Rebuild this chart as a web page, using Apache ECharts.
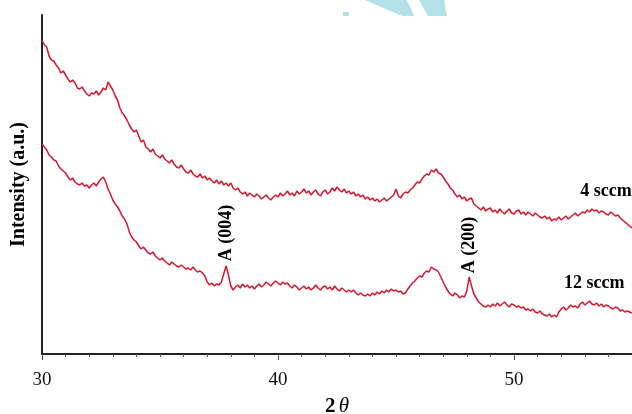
<!DOCTYPE html>
<html>
<head>
<meta charset="utf-8">
<script src="https://cdn.jsdelivr.net/npm/echarts@6/dist/echarts.min.js"></script>
<style>
  html, body { margin: 0; padding: 0; background: #fff; }
  #chart { width: 632px; height: 414px; }
</style>
</head>
<body>
<div id="chart"></div>
<script>
// 2θ grid: 30 .. 55, step 0.1
var thetaStart = 30;
var thetaStep = 0.1;

// 4 sccm (upper curve), arbitrary intensity units; one row per degree
var sccm4 = [
    314,309,307,298,294,293,289,286,281,283,
    279,275,272,274,271,266,265,267,263,260,
    258,261,260,263,259,262,266,264,272,268,
    264,258,254,246,241,238,234,229,225,222,
    224,218,212,214,207,205,202,205,200,198,
    196,199,195,193,191,194,190,187,186,189,
    185,182,181,184,180,178,177,180,176,178,
    174,176,173,171,174,170,173,169,171,168,
    171,166,164,166,162,160,162,158,161,159,
    157,160,158,155,157,159,156,154,157,159,
    157,161,158,160,163,159,161,158,163,160,
    162,165,161,163,159,162,164,160,158,162,
    164,160,162,166,163,167,164,162,165,161,
    163,160,162,158,160,157,159,155,157,154,
    156,153,155,152,154,156,153,155,157,159,
    165,158,156,160,162,161,164,166,169,172,
    171,175,178,180,179,184,182,185,181,180,
    177,173,170,166,164,160,157,159,155,157,
    153,155,156,150,148,146,144,147,143,145,
    146,142,144,141,145,142,140,143,145,141,
    140,143,144,140,142,139,142,140,138,141,
    139,137,136,138,135,137,133,135,134,137,
    134,136,138,135,137,139,141,138,140,142,
    141,144,142,145,143,144,141,143,142,140,
    139,142,140,138,139,136,134,132,130,128,
    126
];

// 12 sccm (lower curve)
var sccm12 = [
    210,207,204,199,197,194,193,188,185,183,
    181,177,174,176,172,170,169,171,168,169,
    166,169,171,168,172,175,177,172,165,160,
    154,150,147,143,138,135,130,122,117,114,
    112,108,105,107,104,101,100,102,98,96,
    94,96,93,91,89,92,90,88,87,89,
    87,85,86,84,87,84,82,83,81,78,
    72,69,71,68,70,69,72,80,88,79,
    68,64,67,69,66,70,67,69,66,68,
    65,68,70,67,69,72,70,68,71,73,
    71,69,72,70,71,68,66,69,67,64,
    66,68,65,67,64,66,69,66,64,67,
    68,65,67,64,68,65,63,66,64,62,
    64,62,64,61,59,61,59,58,60,58,
    61,59,62,60,63,61,64,62,65,63,
    64,62,63,60,61,65,68,71,73,76,
    78,77,81,83,82,87,85,84,82,77,
    72,67,63,60,58,61,59,56,58,57,
    63,77,68,60,56,52,50,48,47,49,
    47,50,48,51,48,50,52,49,47,50,
    49,47,48,46,47,44,45,43,45,42,
    41,43,40,39,38,40,37,39,37,42,
    45,47,44,46,49,47,48,46,50,52,
    49,51,53,50,49,51,48,50,47,49,
    48,46,45,47,46,43,44,42,43,42,
    41
];

// text annotations: [label, 2θ, intensity, rotated]
var notes = [
    ['A (004)', 37.82, 121, true],
    ['A (200)', 48.1, 109, true],
    ['4 sccm', 53.9, 163, false],
    ['12 sccm', 53.4, 71, false]
];

function pairs(vals) {
    var out = [];
    for (var i = 0; i < vals.length; i++) {
        out.push([+(thetaStart + i * thetaStep).toFixed(1), vals[i]]);
    }
    return out;
}

var chart = echarts.init(document.getElementById('chart'));
var serif = '"Liberation Serif", "Times New Roman", serif';
var lineColor = '#d3182d';

var option = {
    backgroundColor: '#fff',
    animation: false,
    grid: { left: 42, right: 0, top: 15, bottom: 60, outerBoundsMode: 'none', containLabel: false },
    xAxis: [
        {
            type: 'value',
            min: 30, max: 55, interval: 10,
            name: '{b|2} {i|θ}',
            nameLocation: 'middle',
            nameGap: 42,
            nameTextStyle: {
                rich: {
                    b: { fontFamily: serif, fontWeight: 'bold', fontSize: 21, color: '#000' },
                    i: { fontFamily: serif, fontStyle: 'italic', fontSize: 21, color: '#000' }
                }
            },
            axisLine: { lineStyle: { color: '#222', width: 2 } },
            axisTick: { show: true, length: 6, lineStyle: { color: '#444', width: 1 } },
            axisLabel: { fontFamily: serif, fontSize: 19, color: '#111', margin: 17, showMaxLabel: false },
            splitLine: { show: false }
        },
        {
            type: 'value',
            min: 30, max: 55, interval: 1,
            position: 'bottom',
            axisLine: { show: false },
            axisTick: { show: true, length: 3, lineStyle: { color: '#555', width: 1 } },
            axisLabel: { show: false },
            splitLine: { show: false }
        }
    ],
    yAxis: {
        type: 'value',
        min: 0, max: 339,
        name: 'Intensity (a.u.)',
        nameLocation: 'middle',
        nameRotate: 90,
        nameGap: 13,
        nameTextStyle: { fontFamily: serif, fontWeight: 'bold', fontSize: 20, color: '#000' },
        axisLine: { show: true, lineStyle: { color: '#222', width: 2 } },
        axisTick: { show: false },
        axisLabel: { show: false },
        splitLine: { show: false }
    },
    series: [
        {
            name: '4 sccm', type: 'line', xAxisIndex: 0,
            data: pairs(sccm4), showSymbol: false,
            lineStyle: { color: lineColor, width: 1.5 }
        },
        {
            name: '12 sccm', type: 'line', xAxisIndex: 0,
            data: pairs(sccm12), showSymbol: false,
            lineStyle: { color: lineColor, width: 1.5 }
        }
    ]
};
chart.setOption(option);

// watermark fragment + annotation texts
var graphics = [
    { type: 'polygon', shape: { points: [[343, 12], [349, 12], [349, 16], [343, 16]] }, style: { fill: '#b4e1e7' }, silent: true },
    { type: 'polygon', shape: { points: [[365, 0], [407, 0], [414, 16], [402, 16]] }, style: { fill: '#b4e1e7' }, silent: true },
    { type: 'polygon', shape: { points: [[419, 0], [444, 0], [447, 16], [428, 16]] }, style: { fill: '#b4e1e7' }, silent: true }
];
notes.forEach(function (n) {
    var p = chart.convertToPixel({ xAxisIndex: 0, yAxisIndex: 0 }, [n[1], n[2]]);
    graphics.push({
        type: 'text',
        x: p[0], y: p[1],
        rotation: n[3] ? Math.PI / 2 : 0,
        style: {
            text: n[0],
            font: 'bold 18px ' + serif,
            fill: '#000',
            align: 'center',
            verticalAlign: 'middle'
        }
    });
});
chart.setOption({ graphic: graphics });
</script>
</body>
</html>
